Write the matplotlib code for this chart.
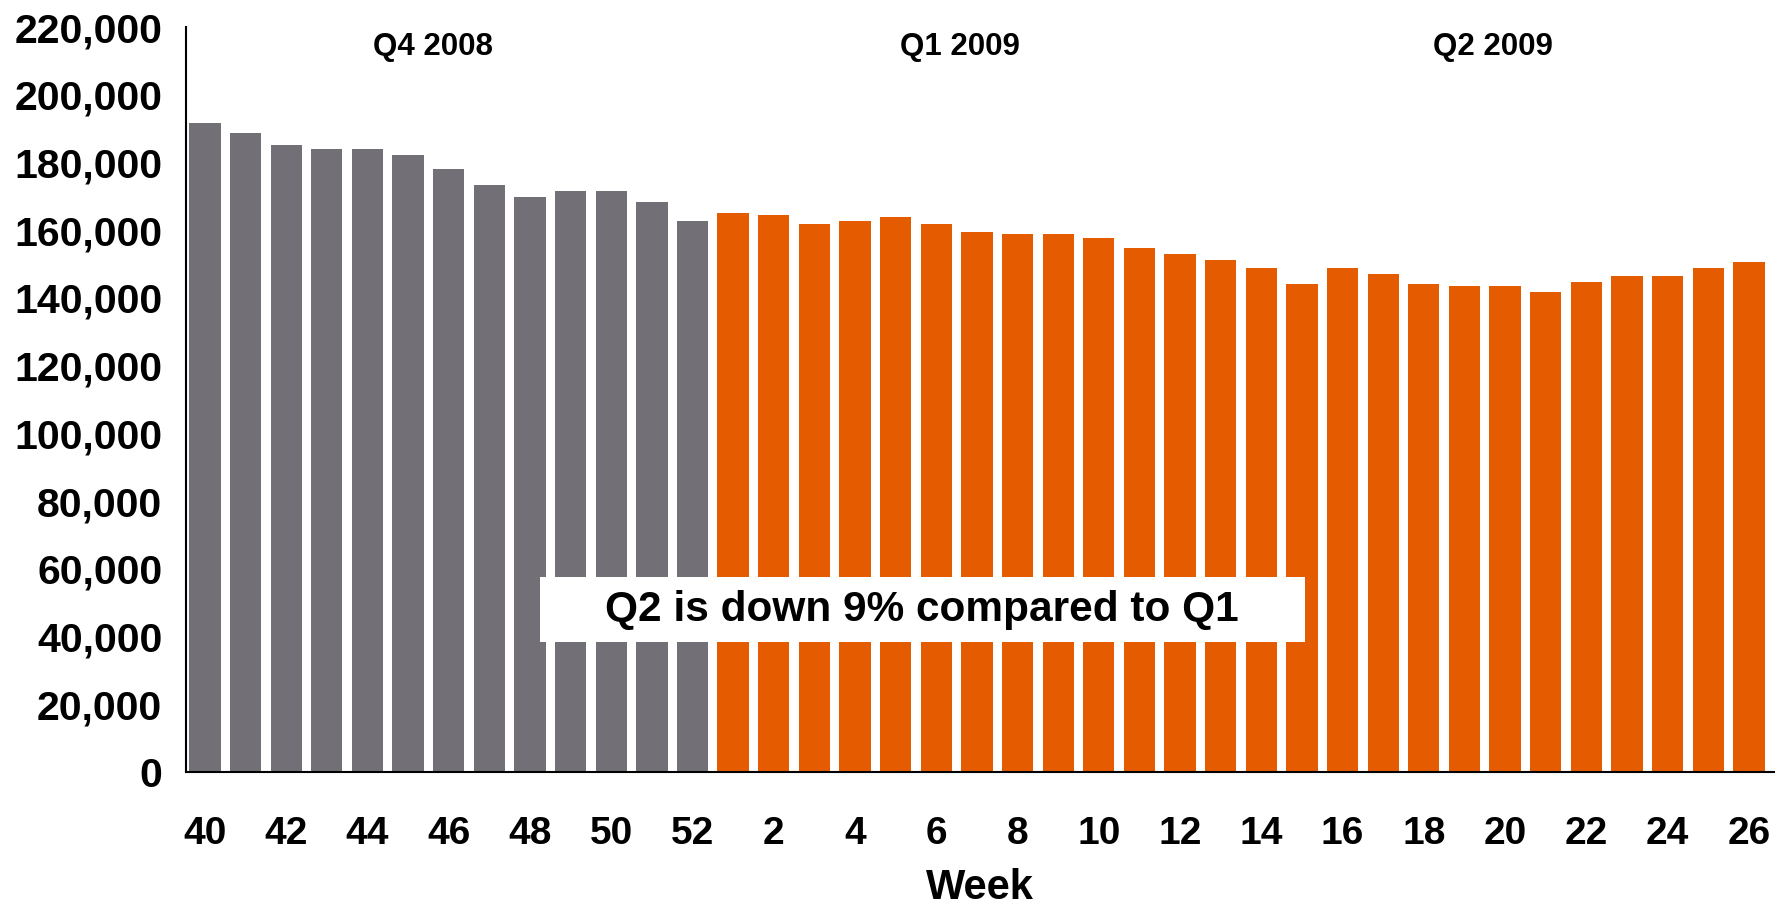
import matplotlib
matplotlib.use("Agg")
import matplotlib.pyplot as plt
from matplotlib.patches import Rectangle
from matplotlib.ticker import FuncFormatter

plt.rcParams['font.family'] = ['Liberation Sans', 'DejaVu Sans']
plt.rcParams['font.weight'] = 'bold'

# Weekly totals, Q4 2008 through Q2 2009
weeks = list(range(40, 53)) + list(range(1, 27))
values = [191700, 188700, 185100, 184000, 184000, 182200, 178000, 173300,
          169700, 171500, 171500, 168500, 162600,
          165000, 164400, 162000, 162600, 163800, 162000, 159600, 159000,
          159000, 157800, 154900, 153100, 151300,
          148900, 144200, 148900, 147100, 144200, 143600, 143600, 141800,
          144800, 146500, 146500, 148900, 150700]
n_2008 = 13
quarter_labels = ["Q4 2008", "Q1 2009", "Q2 2009"]
quarter_x = [5.61, 18.58, 31.69]
annotation = "Q2 is down 9% compared to Q1"

GRAY = "#727076"
ORANGE = "#E55C00"

fig = plt.figure(figsize=(17.87, 9.06), dpi=100)
ax = fig.add_axes([0.104, 0.148, 0.889, 0.822])

colors = [GRAY] * n_2008 + [ORANGE] * (len(values) - n_2008)
x = list(range(len(values)))
ax.bar(x, values, width=0.77, color=colors, linewidth=0, zorder=2)

ax.set_xlim(-0.47, 38.63)
ax.set_ylim(0, 220000)
ax.set_yticks(range(0, 220001, 20000))
ax.yaxis.set_major_formatter(FuncFormatter(lambda v, p: f"{int(v):,}"))
ax.set_xticks(x[::2])
ax.set_xticklabels([str(w) for w in weeks[::2]])

for side in ("top", "right"):
    ax.spines[side].set_visible(False)
for side in ("left", "bottom"):
    ax.spines[side].set_linewidth(1.5)
    ax.spines[side].set_color("black")
    ax.spines[side].set_zorder(3)

ax.tick_params(axis="both", length=0)
ax.tick_params(axis="y", pad=17, labelsize=29.5)
ax.tick_params(axis="x", pad=32, labelsize=28)
for lbl in ax.get_xticklabels() + ax.get_yticklabels():
    lbl.set_fontweight("bold")

ax.set_xlabel("Week", fontsize=30, fontweight="bold", labelpad=11)

for qx, ql in zip(quarter_x, quarter_labels):
    ax.text(qx, 214000, ql, ha="center", va="center", fontsize=22.5,
            fontweight="bold")

# white callout box across the middle of the bars
ax.add_patch(Rectangle((0.2228, 0.1745), 0.4815, 0.0872, transform=ax.transAxes,
                       facecolor="white", edgecolor="none", zorder=4))
ax.text(0.4635, 0.218, annotation, transform=ax.transAxes, ha="center",
        va="center", fontsize=30.5, fontweight="bold", zorder=5)

fig.savefig("out.png", dpi=100, facecolor="white")
